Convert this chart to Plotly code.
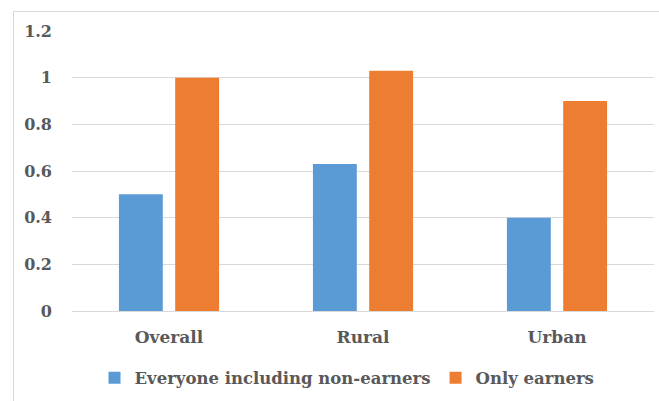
import plotly.graph_objects as go

categories = ["Overall", "Rural", "Urban"]
everyone = [0.50, 0.63, 0.40]
earners = [1.00, 1.03, 0.90]
series_names = ["Everyone including non-earners", "Only earners"]
tick_vals = [0, 0.2, 0.4, 0.6, 0.8, 1.0, 1.2]
tick_text = ["0", "0.2", "0.4", "0.6", "0.8", "1", "1.2"]

font_family = "DejaVu Serif"
text_color = "#595959"

fig = go.Figure()
fig.add_trace(go.Bar(x=categories, y=everyone, name=series_names[0],
                     marker=dict(color="#5B9BD5", line=dict(width=0))))
fig.add_trace(go.Bar(x=categories, y=earners, name=series_names[1],
                     marker=dict(color="#ED7D31", line=dict(width=0))))

L, R, T, B = 72, 5, 31, 90
W, H = 659, 401
pw = W - L - R
ph = H - T - B

def px_x(p):
    return (p - L) / pw

def px_y(p):
    return (H - B - p) / ph

fig.update_layout(
    width=W, height=H,
    margin=dict(l=L, r=R, t=T, b=B),
    paper_bgcolor="white",
    plot_bgcolor="white",
    barmode="group",
    bargap=0.42,
    bargroupgap=0.22,
    font=dict(family=font_family, color=text_color, weight="bold"),
    showlegend=True,
    legend=dict(orientation="h", x=px_x(347), xanchor="center",
                y=px_y(378), yanchor="middle",
                font=dict(family=font_family, size=16.5, color=text_color, weight="bold"),
                itemwidth=30, tracegroupgap=0),
    xaxis=dict(showgrid=False, showline=False, ticks="",
               tickfont=dict(family=font_family, size=17, color=text_color, weight="bold"),
               ticklabelstandoff=14, fixedrange=True),
    yaxis=dict(range=[0, 1.2], tickvals=tick_vals, ticktext=tick_text,
               showgrid=True, gridcolor="#d9d9d9", gridwidth=1,
               zeroline=True, zerolinecolor="#d9d9d9", zerolinewidth=1,
               showline=False, ticks="",
               tickfont=dict(family=font_family, size=16, color=text_color, weight="bold"),
               ticklabelstandoff=19, fixedrange=True),
    shapes=[dict(type="rect", xref="paper", yref="paper",
                 x0=px_x(13.5), x1=px_x(W + 5), y0=px_y(H + 5), y1=px_y(11.5),
                 line=dict(color="#d9d9d9", width=1), fillcolor="rgba(0,0,0,0)",
                 layer="below")],
)

fig.write_html("out.html")
